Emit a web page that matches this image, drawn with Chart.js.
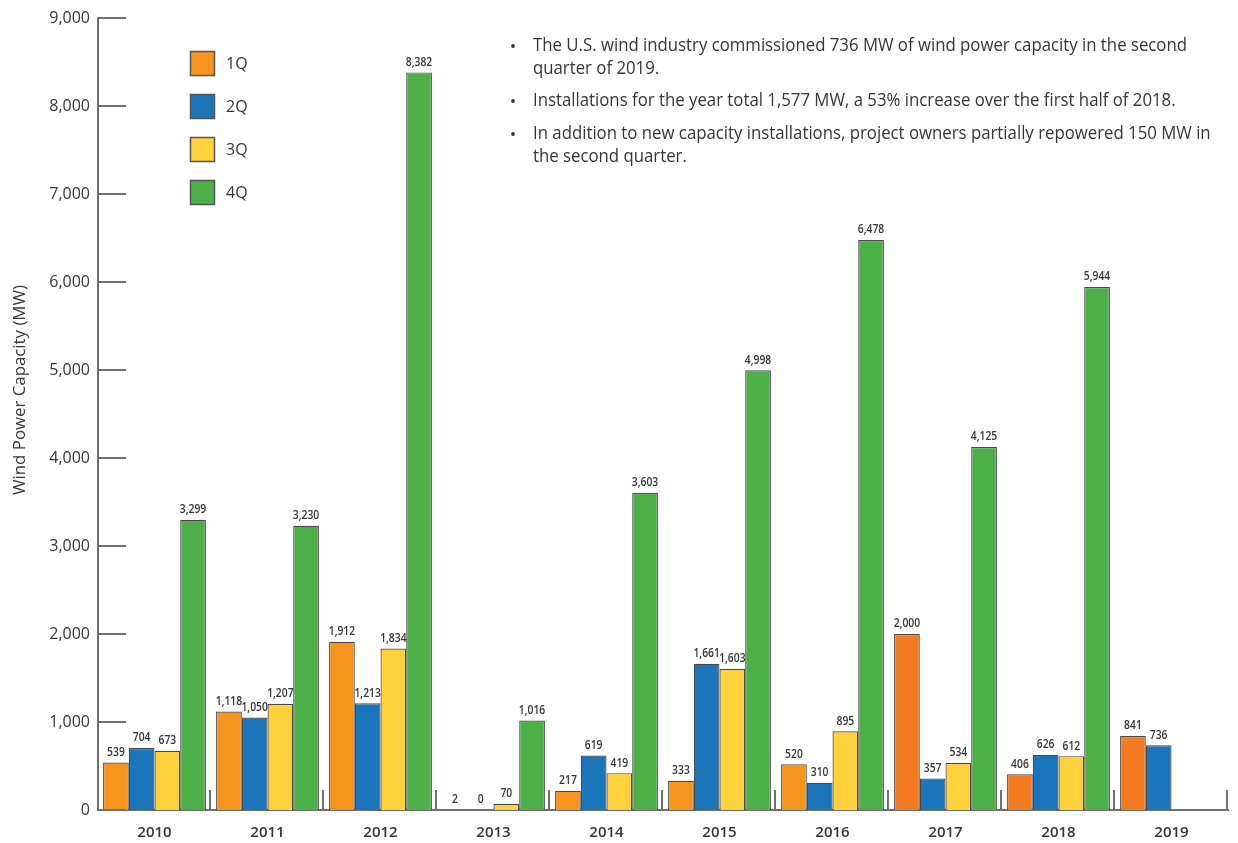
<!DOCTYPE html>
<html>
<head>
<meta charset="utf-8">
<title>Wind Power Capacity</title>
<script src="https://cdn.jsdelivr.net/npm/chart.js@4"></script>
<style>
    html, body { margin: 0; padding: 0; background: #ffffff; }
    #wrap { width: 1238px; height: 843px; position: relative; }
</style>
</head>
<body>
<div id="wrap"><canvas id="myChart" width="1238" height="843"></canvas></div>
<script>
var years = ['2010', '2011', '2012', '2013', '2014', '2015', '2016', '2017', '2018', '2019'];
var q1 = [539, 1118, 1912, 2, 217, 333, 520, 2000, 406, 841];
var q2 = [704, 1050, 1213, 0, 619, 1661, 310, 357, 626, 736];
var q3 = [673, 1207, 1834, 70, 419, 1603, 895, 534, 612, null];
var q4 = [3299, 3230, 8382, 1016, 3603, 4998, 6478, 4125, 5944, null];
var yTicks = [0, 1000, 2000, 3000, 4000, 5000, 6000, 7000, 8000, 9000];
var notes = [
    ['The U.S. wind industry commissioned 736 MW of wind power capacity in the second', 'quarter of 2019.'],
    ['Installations for the year total 1,577 MW, a 53% increase over the first half of 2018.'],
    ['In addition to new capacity installations, project owners partially repowered 150 MW in', 'the second quarter.']
];

var FONT = '"Open Sans", sans-serif';
var TEXT = '#363636';
var AXIS = '#707070';

// orange is a touch redder from 2017 on in the original
var q1Colors = years.map(function (y) { return +y >= 2017 ? '#F47B20' : '#F7941D'; });

// data labels above each bar
var barLabels = {
    id: 'barLabels',
    afterDatasetsDraw: function (chart) {
        var ctx = chart.ctx;
        ctx.save();
        ctx.font = '600 12px ' + FONT;
        ctx.fillStyle = TEXT;
        ctx.textAlign = 'center';
        ctx.textBaseline = 'bottom';
        chart.data.datasets.forEach(function (ds, i) {
            chart.getDatasetMeta(i).data.forEach(function (bar, j) {
                var v = ds.data[j];
                if (v === null || v === undefined) return;
                ctx.save();
                ctx.translate(bar.x, bar.y - 4);
                // squeeze a little, the original uses a condensed face
                ctx.scale(0.86, 1);
                ctx.fillText(v.toLocaleString('en-US'), 0, 0);
                ctx.restore();
            });
        });
        ctx.restore();
    }
};

// axis decorations, legend, side notes
var extras = {
    id: 'extras',
    afterDraw: function (chart) {
        var ctx = chart.ctx;
        var area = chart.chartArea;
        var y = chart.scales.y;
        ctx.save();

        // inward tick marks on y
        ctx.strokeStyle = AXIS;
        ctx.lineWidth = 2;
        yTicks.forEach(function (t) {
            var py = Math.round(y.getPixelForValue(t));
            ctx.beginPath();
            ctx.moveTo(area.left, py);
            ctx.lineTo(area.left + 28, py);
            ctx.stroke();
        });

        // short separators between year groups
        var step = (area.right - area.left) / years.length;
        for (var i = 1; i <= years.length; i++) {
            var px = Math.round(area.left + step * i) - 1;
            ctx.beginPath();
            ctx.moveTo(px, area.bottom);
            ctx.lineTo(px, area.bottom - 20);
            ctx.stroke();
        }

        // y title
        ctx.fillStyle = TEXT;
        ctx.font = '16px ' + FONT;
        ctx.textAlign = 'center';
        ctx.textBaseline = 'middle';
        ctx.translate(20, 390);
        ctx.rotate(-Math.PI / 2);
        var tw = ctx.measureText('Wind Power Capacity (MW)').width;
        ctx.scale(210 / tw, 1);
        ctx.fillText('Wind Power Capacity (MW)', 0, 0);
        ctx.setTransform(1, 0, 0, 1, 0, 0);

        // legend
        ctx.font = '16px ' + FONT;
        ctx.textAlign = 'left';
        chart.data.datasets.forEach(function (ds, i) {
            var top = 51 + i * 43;
            var c = Array.isArray(ds.backgroundColor) ? ds.backgroundColor[0] : ds.backgroundColor;
            ctx.fillStyle = c;
            ctx.fillRect(190, top, 25, 25);
            ctx.strokeStyle = '#555';
            ctx.lineWidth = 1.5;
            ctx.strokeRect(190.5, top + 0.5, 24, 24);
            ctx.fillStyle = TEXT;
            ctx.fillText(ds.label, 226, top + 13);
        });

        // notes
        ctx.font = '17.5px ' + FONT;
        var sx = 654 / ctx.measureText(notes[0][0]).width;
        var lineY = [46, 101, 134];
        notes.forEach(function (lines, k) {
            ctx.fillStyle = TEXT;
            ctx.beginPath();
            ctx.arc(513, lineY[k], 1.9, 0, Math.PI * 2);
            ctx.fill();
            lines.forEach(function (t, n) {
                ctx.save();
                ctx.translate(533, lineY[k] + n * 23);
                ctx.scale(sx, 1);
                ctx.fillText(t, 0, 0);
                ctx.restore();
            });
        });

        ctx.restore();
    }
};

var ctx = document.getElementById('myChart').getContext('2d');
window.myChart = new Chart(ctx, {
    type: 'bar',
    data: {
        labels: years,
        datasets: [
            { label: '1Q', data: q1, backgroundColor: q1Colors },
            { label: '2Q', data: q2, backgroundColor: '#1B75BB' },
            { label: '3Q', data: q3, backgroundColor: '#FFD13A' },
            { label: '4Q', data: q4, backgroundColor: '#4CAF48' }
        ]
    },
    plugins: [barLabels, extras],
    options: {
        responsive: false,
        animation: false,
        layout: { padding: { top: 18, right: 10, left: 0, bottom: 0 } },
        datasets: {
            bar: {
                borderColor: '#4a4a4a',
                borderWidth: 1.2,
                borderSkipped: 'bottom',
                categoryPercentage: 0.91,
                barPercentage: 1.0
            }
        },
        plugins: {
            legend: { display: false },
            tooltip: { enabled: false }
        },
        scales: {
            x: {
                grid: { display: false, drawTicks: false },
                border: { color: AXIS, width: 2 },
                ticks: { color: TEXT, font: { family: FONT, size: 15, weight: '600' }, padding: 14 },
                afterFit: function (s) { s.height = 33; }
            },
            y: {
                min: 0,
                max: 9000,
                afterBuildTicks: function (s) { s.ticks = yTicks.map(function (v) { return { value: v }; }); },
                grid: { display: false, drawTicks: false },
                border: { color: AXIS, width: 2 },
                ticks: {
                    color: TEXT,
                    font: { family: FONT, size: 16 },
                    padding: 8,
                    callback: function (v) { return v.toLocaleString('en-US'); }
                },
                afterFit: function (s) { s.width = 98; }
            }
        }
    }
});
</script>
</body>
</html>
